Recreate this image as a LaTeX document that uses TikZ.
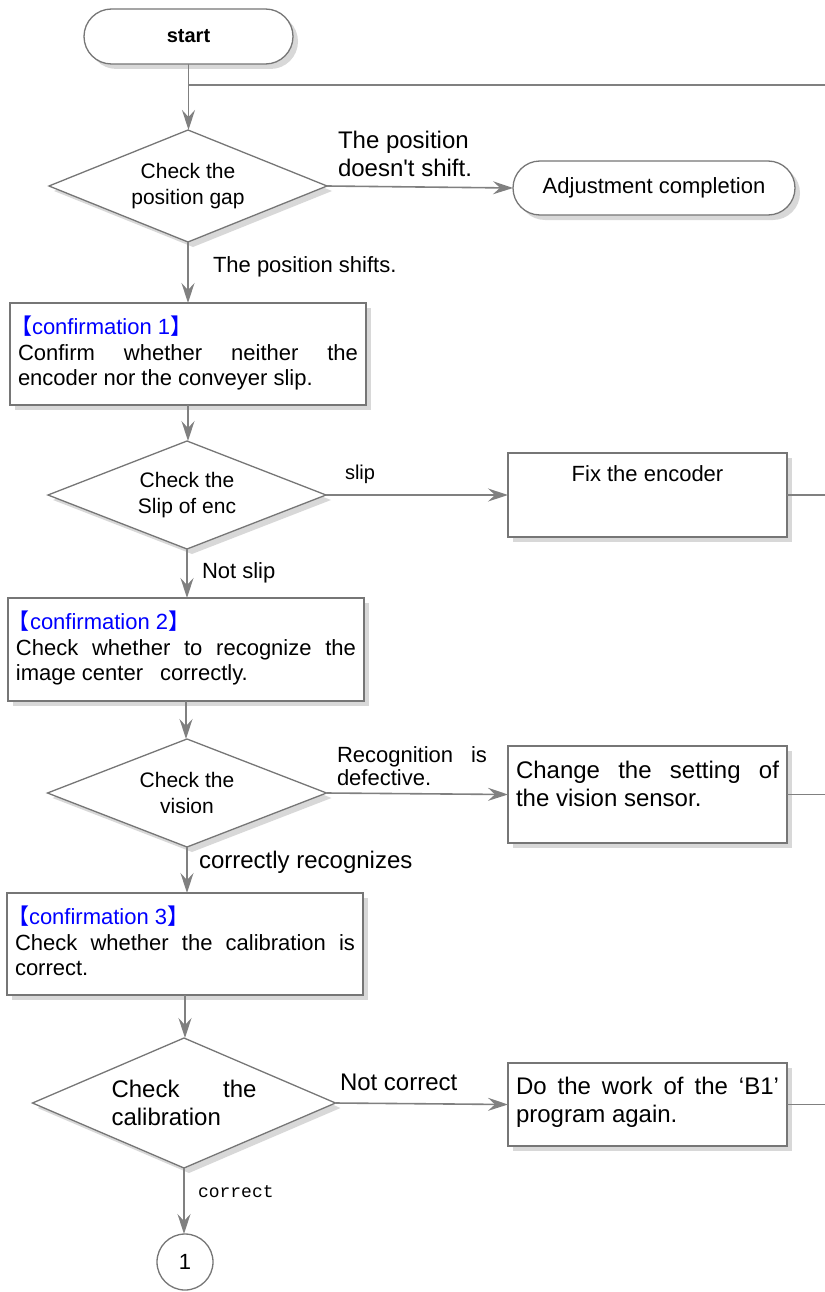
\documentclass[tikz,border=0pt]{standalone}
\usepackage{fontspec}
\setmainfont{Liberation Sans}
\setmonofont{Liberation Mono}
\newfontfamily\cjkfont{Noto Sans CJK JP}
\usetikzlibrary{shapes.geometric,shapes.misc,shadows,arrows.meta}

\definecolor{linegray}{RGB}{128,128,128}
\definecolor{framegray}{RGB}{118,118,118}
\definecolor{shadowgray}{RGB}{216,216,216}
\definecolor{confblue}{RGB}{0,0,255}

% blue heading of a confirmation step, with full-width brackets
\newcommand\conflabel[1]{\textcolor{confblue}{\hspace*{-8pt}\smash{\cjkfont 【}confirmation #1\smash{\cjkfont 】}}}
% text block inside a box: width, height, first baseline, size, skip, content
\newcommand\flowtext[6]{\parbox[c][#2][t]{#1}{\fontsize{#4}{#5}\selectfont\vspace*{\dimexpr#3-\ht\strutbox\relax}\strut #6}}

\tikzset{
  softshadow/.style={general shadow={fill=shadowgray, shadow xshift=5pt, shadow yshift=-5pt}},
  stepbox/.style={rectangle, draw=framegray, line width=1.3pt, fill=white,
    inner xsep=8pt, inner ysep=0pt, outer sep=0pt, softshadow},
  decision/.style={diamond, draw=framegray, line width=1.3pt, fill=white,
    inner sep=0pt, outer sep=0pt, align=center, shape aspect=2.5, softshadow},
  terminal/.style={rounded rectangle, draw=framegray, line width=1.3pt, fill=white,
    inner sep=0pt, outer sep=0pt, softshadow},
  connector/.style={circle, draw=framegray, line width=1.3pt, fill=white,
    inner sep=0pt, outer sep=0pt, minimum size=56pt, font=\fontsize{22}{26}\selectfont},
  link/.style={draw=linegray, line width=1.6pt},
  flow/.style={link, -{Stealth[length=20pt, width=13pt, inset=7pt]}},
  lbl/.style={anchor=base west, inner sep=0pt, outer sep=0pt}
}

\begin{document}
\begin{tikzpicture}[x=1pt, y=-1pt]
\useasboundingbox (0,0) rectangle (824,1292);

% ---- nodes of the main column
\node[terminal, minimum width=209pt, minimum height=55pt,
  font=\fontsize{20}{24}\selectfont\bfseries] (start) at (188.5,36.5) {start};

\node[decision, minimum width=278pt, minimum height=112pt,
  font=\fontsize{21}{26}\selectfont] (d1) at (188,186) {Check the\\position gap};

\node[terminal, minimum width=282pt, minimum height=54pt,
  font=\fontsize{22}{26}\selectfont] (done) at (654,188) {Adjustment completion};

\node[stepbox] (c1) at (188,354)
  {\flowtext{340pt}{102pt}{31pt}{22}{25}{\conflabel{1}\\[1.5pt]%
   \makebox[\linewidth][s]{Confirm whether neither the}\\encoder nor the conveyer slip.}};

\node[decision, minimum width=278pt, minimum height=108pt,
  font=\fontsize{21}{26}\selectfont] (d2) at (187,495) {Check the\\Slip of enc};

\node[stepbox] (fix) at (647.5,495)
  {\flowtext{263pt}{84pt}{28pt}{22}{26}{\centering Fix the encoder}};

\node[stepbox] (c2) at (186,649.5)
  {\flowtext{340pt}{103pt}{31pt}{22}{25}{\conflabel{2}\\[1.5pt]%
   \makebox[\linewidth][s]{Check whether to recognize the}\\image center\hspace{17pt}correctly.}};

\node[decision, minimum width=279pt, minimum height=108pt,
  font=\fontsize{21}{26}\selectfont] (d3) at (187,793) {Check the\\vision};

\node[stepbox] (vis) at (647.5,794.5)
  {\flowtext{263pt}{97pt}{32pt}{24}{28}{\makebox[\linewidth][s]{Change the setting of}\\the vision sensor.}};

\node[stepbox] (c3) at (185,944)
  {\flowtext{340pt}{102pt}{31pt}{22}{25}{\conflabel{3}\\[1.5pt]%
   \makebox[\linewidth][s]{Check whether the calibration is}\\correct.}};

\node[decision, minimum width=303pt, minimum height=130pt, align=left, shape aspect=2.3,
  font=\fontsize{24}{28}\selectfont] (d4) at (184,1103)
  {\makebox[145pt][s]{Check the}\\calibration};

\node[stepbox] (redo) at (647.5,1104.5)
  {\flowtext{263pt}{83pt}{31pt}{24}{28}{\makebox[\linewidth][s]{Do the work of the ‘B1’}\\program again.}};

\node[connector] (one) at (185,1262) {1};

% ---- free ends of the lines that leave on the right
\coordinate (loop) at (828,85);
\coordinate (edge) at (828,0);

% ---- connectors
\draw[flow] (start.south) -- (start.south |- d1.north);
\draw[link, line width=2pt] (start.south |- loop) -- (loop);
\draw[flow] (d1.east) -- (done.west);
\draw[flow] (d1.south) -- (d1.south |- c1.north);
\draw[flow] (c1.south) -- (c1.south |- d2.north);
\draw[flow] (d2.east) -- (fix.west);
\draw[link] (fix.east) -- (fix.east -| edge);
\draw[flow] (d2.south) -- (d2.south |- c2.north);
\draw[flow] (c2.south) -- (c2.south |- d3.north);
\draw[flow] (d3.east) -- (vis.west);
\draw[link] (vis.east) -- (vis.east -| edge);
\draw[flow] (d3.south) -- (d3.south |- c3.north);
\draw[flow] (c3.south) -- (c3.south |- d4.north);
\draw[flow] (d4.east) -- (redo.west);
\draw[link] (redo.east) -- (redo.east -| edge);
\draw[flow] (d4.south) -- (d4.south |- one.north);

% ---- branch labels
\node[lbl, font=\fontsize{24}{28}\selectfont] (lnoshift) at (338,149)
  {\parbox[t]{200pt}{The position\\doesn\textquotesingle t shift.}};
\node[lbl, font=\fontsize{22}{26}\selectfont] (lshift) at (213,272) {The position shifts.};
\node[lbl, font=\fontsize{20}{24}\selectfont] (lslip) at (345,479) {slip};
\node[lbl, font=\fontsize{22}{26}\selectfont] (lnotslip) at (202,578) {Not slip};
\node[lbl, font=\fontsize{22}{23}\selectfont] (lrecog) at (337,762)
  {\parbox[t]{150pt}{\makebox[\linewidth][s]{Recognition is}\\defective.}};
\node[lbl, font=\fontsize{24}{28}\selectfont] (lcorrectly) at (199,868) {correctly recognizes};
\node[lbl, font=\fontsize{24}{28}\selectfont] (lnotcorrect) at (340,1090) {Not correct};
\node[lbl, font=\fontsize{18}{22}\selectfont\ttfamily] (lcorrect) at (198,1197) {correct};
\end{tikzpicture}
\end{document}
